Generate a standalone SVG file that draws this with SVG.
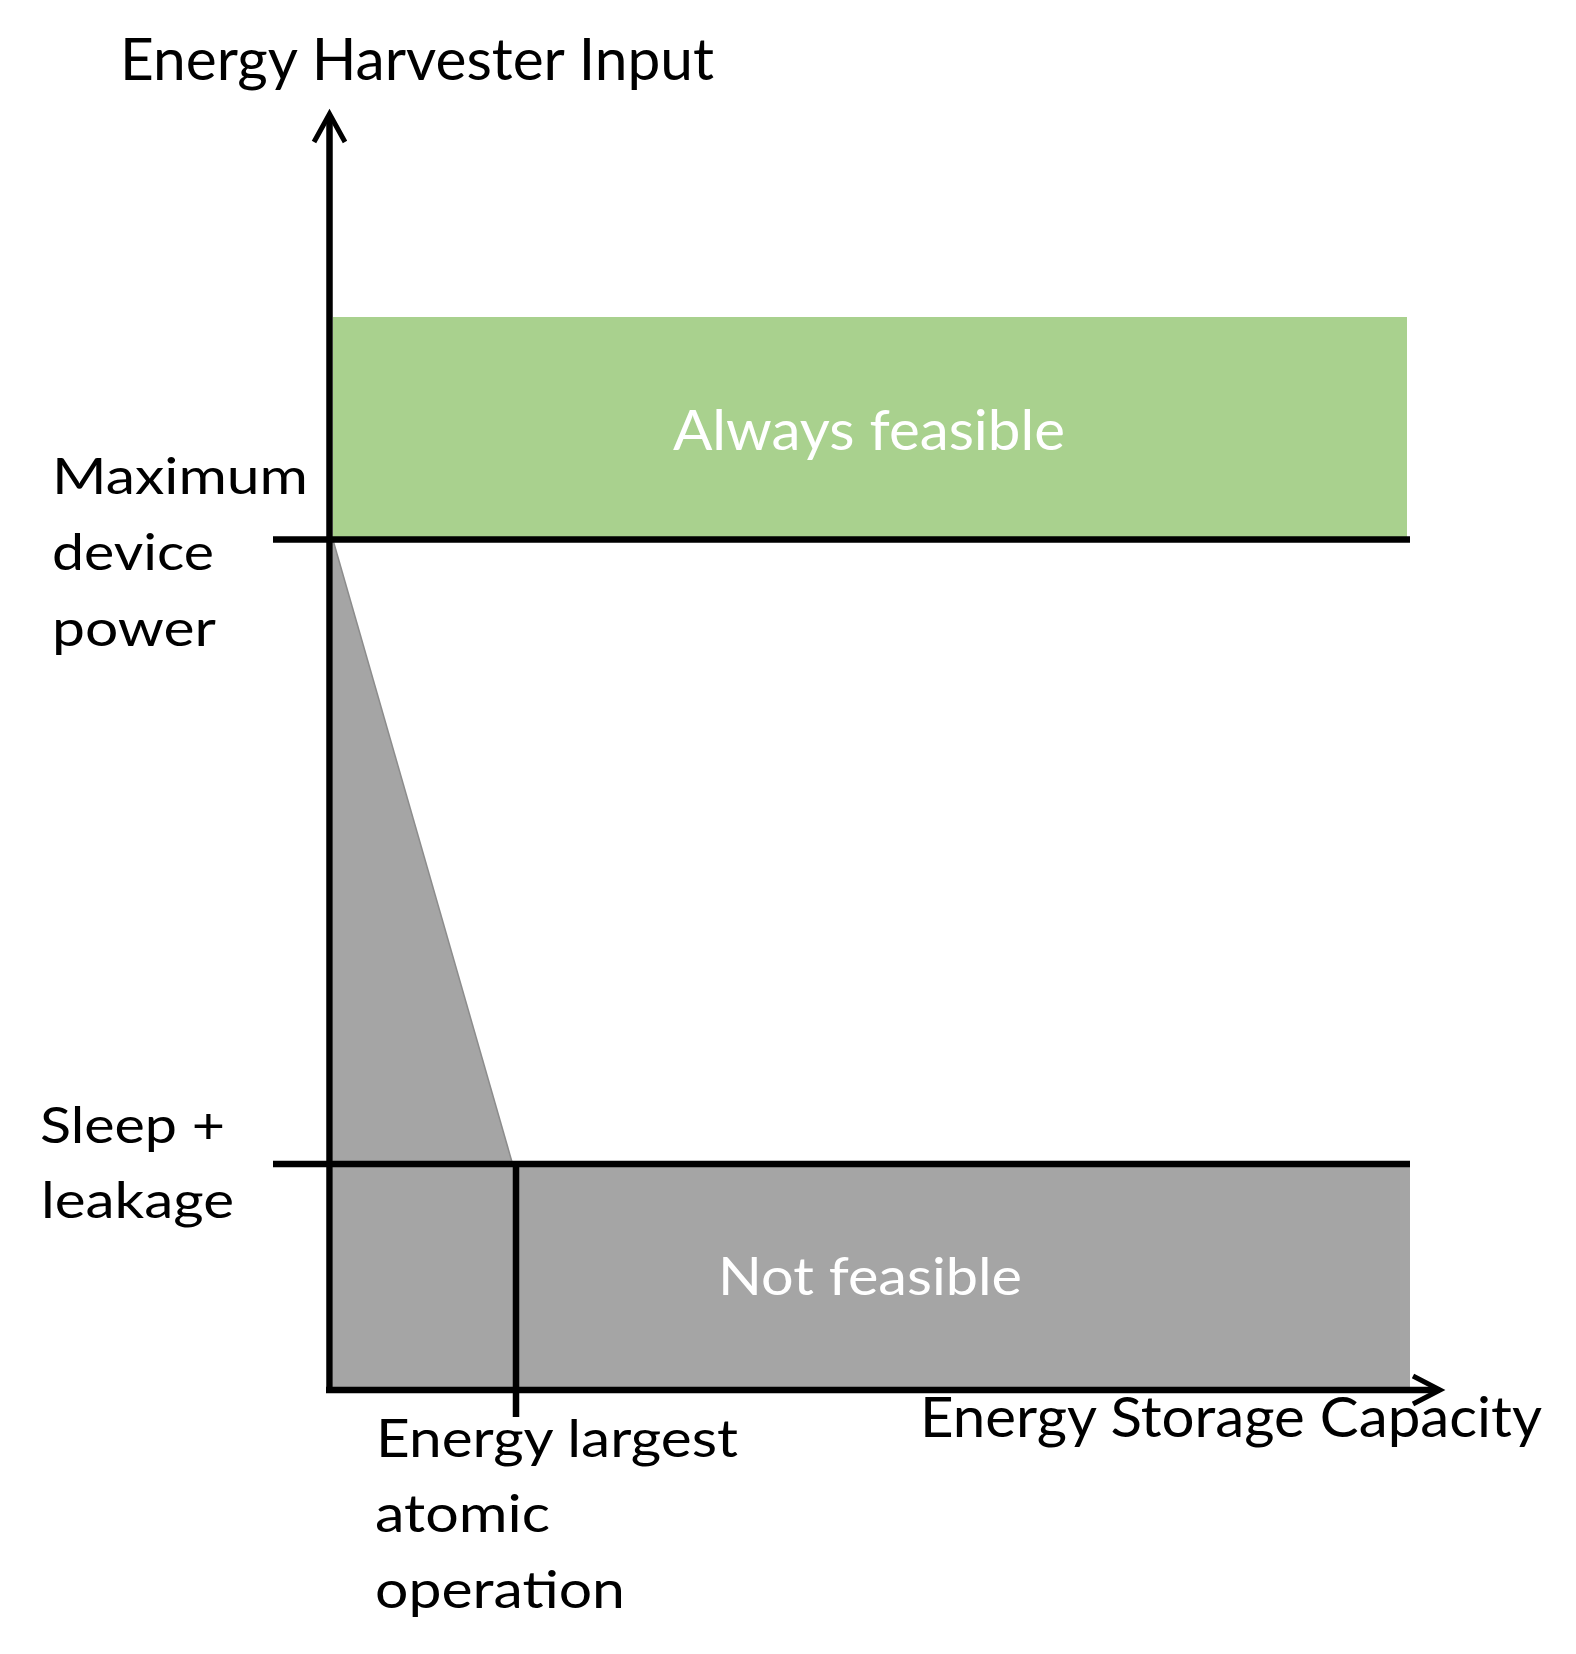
<svg xmlns="http://www.w3.org/2000/svg" width="1576" height="1654" viewBox="0 0 1576 1654">
<style>
.t{font-family:Lato,"Open Sans","Liberation Sans",sans-serif;fill:#000}
.w{font-family:Lato,"Open Sans","Liberation Sans",sans-serif;fill:#ffffff}
.ln{stroke:#000;stroke-width:6.5;fill:none}
.ar{stroke:#000;stroke-width:5;fill:none;stroke-linecap:butt;stroke-linejoin:miter}
</style>
<rect width="1576" height="1654" fill="#ffffff"/>
<g id="always-feasible">
<rect x="333" y="317" width="1074" height="220" fill="#a9d18e"/>
<text class="w" x="673" y="450" font-size="56" textLength="392" lengthAdjust="spacingAndGlyphs">Always feasible</text>
</g>
<g id="not-feasible">
<polygon points="333,540 512,1162 1410,1162 1410,1387 333,1387" fill="#a5a5a5"/>
<line x1="333" y1="540" x2="512" y2="1162" stroke="#8c8c8c" stroke-width="1.5"/>
<text class="w" x="718" y="1295" font-size="52" textLength="304" lengthAdjust="spacingAndGlyphs">Not feasible</text>
</g>
<g id="connectors">
<line class="ln" x1="273" y1="539.5" x2="1410" y2="539.5"/>
<line class="ln" x1="273" y1="1164" x2="1410" y2="1164"/>
<line class="ln" x1="516" y1="1164" x2="516" y2="1417"/>
<line class="ln" x1="329.5" y1="1393" x2="329.5" y2="116"/>
<polyline class="ar" points="314,142 329.5,114 345,142"/>
<line class="ln" x1="326" y1="1390" x2="1438" y2="1390"/>
<polyline class="ar" points="1413,1376 1440,1390 1413,1404"/>
</g>
<g id="y-axis-label">
<text class="t" x="120" y="80" font-size="58" textLength="594" lengthAdjust="spacingAndGlyphs">Energy Harvester Input</text>
</g>
<g id="x-axis-label">
<text class="t" x="920" y="1437" font-size="56" textLength="622" lengthAdjust="spacingAndGlyphs">Energy Storage Capacity</text>
</g>
<g id="max-power-label">
<text class="t" x="52" y="494" font-size="50" textLength="256" lengthAdjust="spacingAndGlyphs">Maximum</text>
<text class="t" x="52" y="570" font-size="50" textLength="162" lengthAdjust="spacingAndGlyphs">device</text>
<text class="t" x="52" y="646" font-size="50" textLength="164" lengthAdjust="spacingAndGlyphs">power</text>
</g>
<g id="sleep-label">
<text class="t" x="40" y="1143" font-size="50" textLength="185" lengthAdjust="spacingAndGlyphs">Sleep +</text>
<text class="t" x="41" y="1218" font-size="50" textLength="193" lengthAdjust="spacingAndGlyphs">leakage</text>
</g>
<g id="atomic-label">
<text class="t" x="376" y="1457" font-size="52" textLength="362" lengthAdjust="spacingAndGlyphs">Energy largest</text>
<text class="t" x="375" y="1532" font-size="52" textLength="175" lengthAdjust="spacingAndGlyphs">atomic</text>
<text class="t" x="375" y="1608" font-size="52" textLength="250" lengthAdjust="spacingAndGlyphs">operation</text>
</g>
</svg>
